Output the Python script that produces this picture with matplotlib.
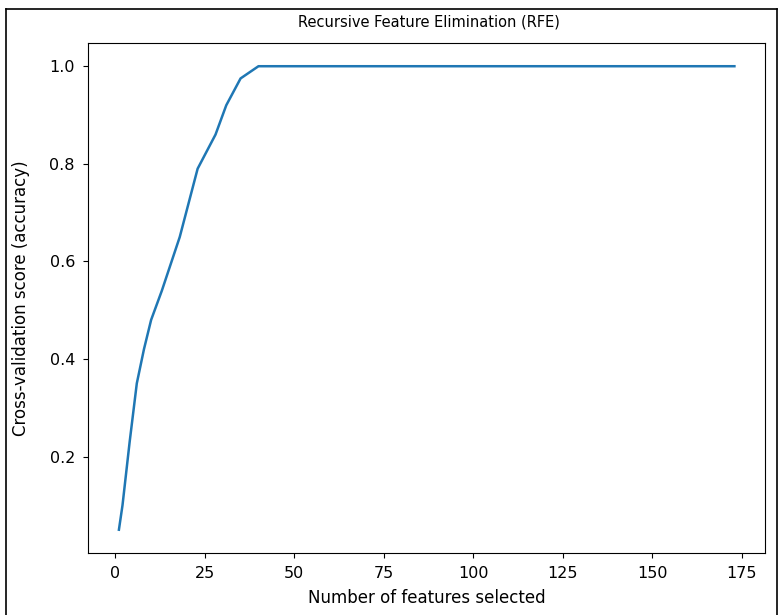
import matplotlib
matplotlib.use("Agg")
import matplotlib.pyplot as plt
from matplotlib.lines import Line2D

# number of features vs cross-validation score
n_features = [1, 2, 4, 6, 8, 10, 13, 18, 23, 28, 31, 35, 40, 60, 100, 140, 173]
cv_scores = [0.05, 0.10, 0.23, 0.35, 0.42, 0.48, 0.54, 0.65, 0.79, 0.86, 0.92, 0.975, 1.0, 1.0, 1.0, 1.0, 1.0]

fig = plt.figure(figsize=(7.8, 6.15), dpi=100)
ax = fig.add_axes([0.113, 0.101, 0.868, 0.829])

ax.plot(n_features, cv_scores, color="#1f77b4", linewidth=1.8)
ax.set_xticks([0, 25, 50, 75, 100, 125, 150, 175])
ax.set_yticks([0.2, 0.4, 0.6, 0.8, 1.0])
ax.tick_params(labelsize=11.5, pad=6)

ax.set_xlabel("Number of features selected", fontsize=12, labelpad=6)
ax.set_ylabel("Cross-validation score (accuracy)", fontsize=12, labelpad=14)
fig.text(0.55, 0.965, "Recursive Feature Elimination (RFE)", ha="center", va="center", fontsize=10.5)

# frame of the screenshot
fig.add_artist(Line2D([0.008, 0.008], [0.0, 0.986], color="black", linewidth=1.2))
fig.add_artist(Line2D([0.008, 0.996], [0.986, 0.986], color="black", linewidth=1.2))
fig.add_artist(Line2D([0.996, 0.996], [0.0, 0.986], color="black", linewidth=1.2))

fig.savefig("out.png", dpi=100)
